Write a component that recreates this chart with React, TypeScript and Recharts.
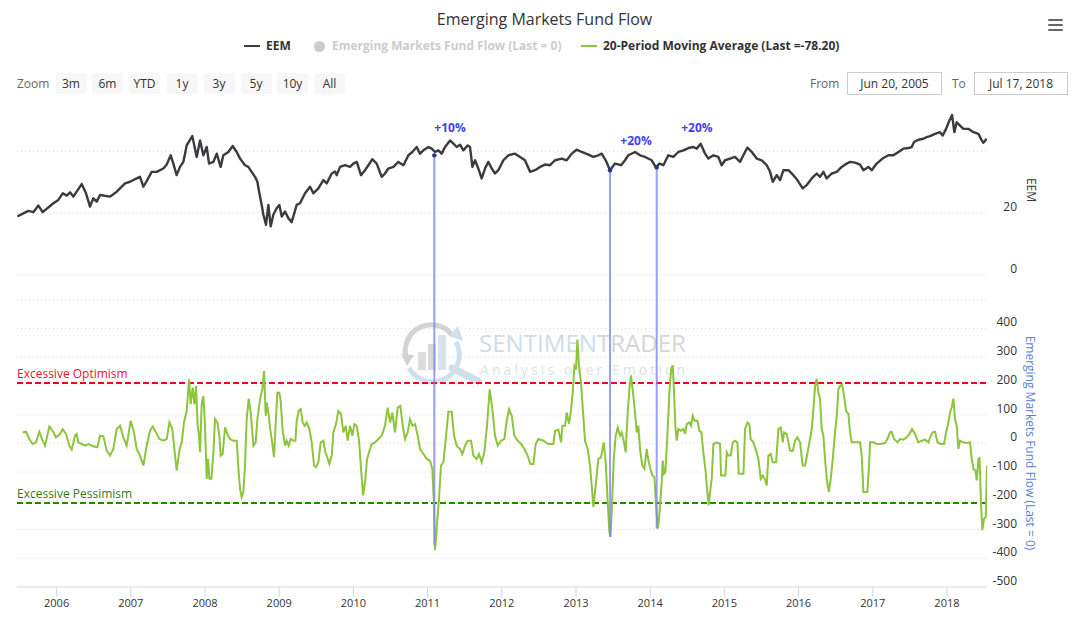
import React from 'react';
import { ComposedChart, Line, XAxis, YAxis, ReferenceLine, ReferenceDot } from 'recharts';

const FONT = '"Open Sans", "DejaVu Sans", sans-serif';

// ---------- data (decimal years) ----------
const eemDates = [
  2005.471, 2005.619, 2005.686, 2005.754, 2005.812, 2005.956, 2006.023, 2006.082, 2006.136, 2006.181,
  2006.225, 2006.338, 2006.396, 2006.45, 2006.495, 2006.54, 2006.585, 2006.72, 2006.81, 2006.922,
  2006.989, 2007.079, 2007.124, 2007.169, 2007.214, 2007.281, 2007.349, 2007.439, 2007.484, 2007.538,
  2007.573, 2007.618, 2007.663, 2007.708, 2007.753, 2007.829, 2007.865, 2007.888, 2007.933, 2007.978,
  2008.023, 2008.054, 2008.113, 2008.158, 2008.211, 2008.247, 2008.315, 2008.373, 2008.427, 2008.472,
  2008.539, 2008.584, 2008.629, 2008.674, 2008.706, 2008.733, 2008.764, 2008.787, 2008.822, 2008.854,
  2008.885, 2008.921, 2008.966, 2009.002, 2009.034, 2009.079, 2009.123, 2009.168, 2009.236, 2009.281,
  2009.348, 2009.416, 2009.46, 2009.528, 2009.595, 2009.64, 2009.708, 2009.753, 2009.775, 2009.82,
  2009.887, 2009.955, 2010.0, 2010.045, 2010.103, 2010.157, 2010.202, 2010.256, 2010.314, 2010.382,
  2010.426, 2010.471, 2010.539, 2010.606, 2010.674, 2010.741, 2010.795, 2010.853, 2010.898, 2010.943,
  2011.011, 2011.056, 2011.1, 2011.145, 2011.19, 2011.235, 2011.303, 2011.348, 2011.392, 2011.437,
  2011.482, 2011.541, 2011.572, 2011.604, 2011.64, 2011.684, 2011.729, 2011.774, 2011.819, 2011.864,
  2011.909, 2011.954, 2012.021, 2012.089, 2012.179, 2012.246, 2012.313, 2012.381, 2012.448, 2012.516,
  2012.583, 2012.65, 2012.718, 2012.808, 2012.875, 2012.943, 2013.01, 2013.077, 2013.167, 2013.235,
  2013.302, 2013.347, 2013.401, 2013.459, 2013.527, 2013.608, 2013.661, 2013.706, 2013.796, 2013.864,
  2013.931, 2014.021, 2014.079, 2014.124, 2014.178, 2014.245, 2014.313, 2014.38, 2014.448, 2014.515,
  2014.583, 2014.627, 2014.681, 2014.74, 2014.785, 2014.852, 2014.919, 2014.964, 2015.009, 2015.077,
  2015.144, 2015.211, 2015.256, 2015.31, 2015.369, 2015.436, 2015.503, 2015.571, 2015.616, 2015.652,
  2015.706, 2015.751, 2015.796, 2015.863, 2015.93, 2015.984, 2016.056, 2016.11, 2016.178, 2016.245,
  2016.29, 2016.335, 2016.379, 2016.447, 2016.514, 2016.582, 2016.649, 2016.694, 2016.761, 2016.829,
  2016.874, 2016.941, 2016.986, 2017.053, 2017.143, 2017.211, 2017.278, 2017.346, 2017.413, 2017.48,
  2017.525, 2017.557, 2017.615, 2017.682, 2017.727, 2017.772, 2017.84, 2017.907, 2017.943, 2017.988,
  2018.033, 2018.069, 2018.1, 2018.132, 2018.177, 2018.222, 2018.289, 2018.357, 2018.424, 2018.469,
  2018.491, 2018.536,
];
const eemValues = [
  18.93, 20.75, 20.32, 22.46, 20.32, 23.21, 24.28, 26.42, 25.67, 26.74,
  25.35, 29.41, 26.42, 22.14, 24.81, 23.74, 25.88, 25.35, 26.95, 29.63,
  30.16, 31.23, 31.76, 28.56, 30.37, 33.37, 33.37, 34.44, 35.71, 38.72,
  36.04, 32.3, 34.97, 36.58, 41.92, 44.92, 40.86, 38.18, 43.53, 38.72,
  41.39, 36.04, 36.58, 39.25, 34.97, 38.72, 39.79, 41.71, 39.79, 37.65,
  35.51, 34.97, 33.37, 31.76, 30.16, 26.42, 22.67, 19.47, 16.26, 22.67,
  15.72, 19.47, 21.6, 22.67, 18.93, 20.53, 18.4, 17.11, 22.67, 23.21,
  26.42, 28.56, 26.42, 28.02, 30.7, 29.63, 32.83, 33.5, 32.3, 34.97,
  35.51, 34.97, 36.04, 36.58, 32.3, 33.9, 35.51, 37.43, 36.04, 31.76,
  32.83, 34.44, 34.97, 36.58, 35.51, 38.72, 39.79, 41.39, 39.25, 40.32,
  41.39, 40.86, 39.79, 40.32, 39.25, 41.39, 43.53, 42.46, 41.39, 42.14,
  40.32, 41.92, 41.39, 34.97, 37.11, 34.44, 31.23, 34.44, 36.58, 34.44,
  32.83, 33.9, 37.11, 38.72, 39.25, 38.18, 37.11, 33.37, 33.9, 34.97,
  35.72, 35.51, 37.11, 37.65, 37.11, 39.25, 40.53, 39.79, 38.93, 38.18,
  38.72, 39.25, 37.11, 33.9, 36.04, 35.51, 37.11, 38.72, 39.79, 38.72,
  38.18, 37.11, 34.76, 36.04, 35.51, 38.72, 38.18, 39.79, 40.32, 41.06,
  41.39, 40.86, 42.46, 39.25, 37.65, 38.72, 38.18, 35.51, 37.11, 37.65,
  38.18, 36.58, 38.72, 41.18, 39.79, 37.65, 37.11, 35.51, 33.37, 30.16,
  32.3, 30.7, 33.9, 33.9, 32.3, 30.7, 28.02, 29.09, 31.23, 32.83,
  31.76, 33.37, 31.23, 32.83, 33.37, 34.97, 36.04, 36.58, 36.36, 35.72,
  33.9, 34.97, 33.9, 36.04, 37.86, 38.72, 38.72, 39.79, 40.86, 41.06,
  41.39, 43.0, 43.74, 44.06, 44.6, 44.92, 45.67, 46.2, 45.13, 47.27,
  49.95, 51.76, 46.2, 49.41, 48.34, 47.27, 47.27, 46.2, 45.67, 43.53,
  42.78, 44.06,
];

const flowDates = [
  2005.543, 2005.588, 2005.632, 2005.677, 2005.722, 2005.767, 2005.812, 2005.844, 2005.902, 2005.947,
  2005.992, 2006.046, 2006.082, 2006.127, 2006.172, 2006.203, 2006.248, 2006.27, 2006.293, 2006.338,
  2006.383, 2006.428, 2006.495, 2006.549, 2006.585, 2006.63, 2006.675, 2006.72, 2006.765, 2006.81,
  2006.855, 2006.9, 2006.944, 2006.998, 2007.043, 2007.079, 2007.124, 2007.169, 2007.214, 2007.259,
  2007.295, 2007.34, 2007.385, 2007.439, 2007.484, 2007.52, 2007.56, 2007.587, 2007.618, 2007.654,
  2007.686, 2007.717, 2007.753, 2007.785, 2007.807, 2007.834, 2007.857, 2007.879, 2007.901, 2007.92,
  2007.933, 2007.955, 2007.978, 2008.0, 2008.023, 2008.041, 2008.059, 2008.086, 2008.113, 2008.135,
  2008.167, 2008.194, 2008.211, 2008.238, 2008.27, 2008.301, 2008.337, 2008.382, 2008.427, 2008.454,
  2008.472, 2008.494, 2008.517, 2008.539, 2008.562, 2008.589, 2008.616, 2008.652, 2008.683, 2008.706,
  2008.742, 2008.773, 2008.796, 2008.818, 2008.832, 2008.854, 2008.876, 2008.899, 2008.93, 2008.953,
  2008.975, 2009.002, 2009.02, 2009.047, 2009.079, 2009.101, 2009.128, 2009.155, 2009.191, 2009.218,
  2009.236, 2009.263, 2009.29, 2009.317, 2009.344, 2009.371, 2009.407, 2009.438, 2009.47, 2009.497,
  2009.528, 2009.559, 2009.595, 2009.622, 2009.649, 2009.676, 2009.708, 2009.73, 2009.766, 2009.797,
  2009.833, 2009.865, 2009.896, 2009.923, 2009.955, 2009.986, 2010.013, 2010.045, 2010.076, 2010.103,
  2010.13, 2010.157, 2010.184, 2010.211, 2010.247, 2010.292, 2010.337, 2010.382, 2010.426, 2010.462,
  2010.494, 2010.525, 2010.561, 2010.597, 2010.633, 2010.665, 2010.696, 2010.732, 2010.763, 2010.795,
  2010.831, 2010.867, 2010.898, 2010.943, 2010.988, 2011.033, 2011.064, 2011.087, 2011.1, 2011.114,
  2011.132, 2011.154, 2011.181, 2011.213, 2011.249, 2011.28, 2011.325, 2011.357, 2011.392, 2011.437,
  2011.469, 2011.505, 2011.541, 2011.586, 2011.617, 2011.662, 2011.693, 2011.729, 2011.765, 2011.801,
  2011.837, 2011.873, 2011.909, 2011.945, 2011.99, 2012.035, 2012.066, 2012.098, 2012.134, 2012.17,
  2012.215, 2012.26, 2012.305, 2012.349, 2012.385, 2012.426, 2012.457, 2012.493, 2012.561, 2012.628,
  2012.695, 2012.718, 2012.763, 2012.799, 2012.817, 2012.853, 2012.875, 2012.907, 2012.934, 2012.956,
  2012.979, 2013.001, 2013.019, 2013.041, 2013.068, 2013.095, 2013.122, 2013.158, 2013.19, 2013.212,
  2013.235, 2013.266, 2013.302, 2013.338, 2013.374, 2013.401, 2013.428, 2013.45, 2013.464, 2013.482,
  2013.509, 2013.536, 2013.563, 2013.594, 2013.616, 2013.643, 2013.67, 2013.697, 2013.724, 2013.742,
  2013.769, 2013.796, 2013.819, 2013.841, 2013.868, 2013.895, 2013.922, 2013.953, 2013.976, 2014.003,
  2014.03, 2014.057, 2014.079, 2014.102, 2014.12, 2014.156, 2014.169, 2014.187, 2014.205, 2014.232,
  2014.259, 2014.282, 2014.304, 2014.322, 2014.34, 2014.358, 2014.38, 2014.412, 2014.448, 2014.47,
  2014.493, 2014.529, 2014.551, 2014.574, 2014.601, 2014.637, 2014.663, 2014.69, 2014.717, 2014.744,
  2014.771, 2014.789, 2014.807, 2014.83, 2014.852, 2014.897, 2014.942, 2014.956, 2014.987, 2015.014,
  2015.032, 2015.054, 2015.086, 2015.113, 2015.144, 2015.176, 2015.194, 2015.234, 2015.257, 2015.279,
  2015.311, 2015.337, 2015.355, 2015.391, 2015.427, 2015.459, 2015.49, 2015.517, 2015.544, 2015.571,
  2015.594, 2015.625, 2015.652, 2015.697, 2015.728, 2015.76, 2015.787, 2015.805, 2015.841, 2015.886,
  2015.922, 2015.953, 2015.984, 2016.02, 2016.056, 2016.088, 2016.11, 2016.146, 2016.178, 2016.2,
  2016.223, 2016.245, 2016.268, 2016.29, 2016.312, 2016.335, 2016.357, 2016.38, 2016.407, 2016.434,
  2016.461, 2016.488, 2016.515, 2016.537, 2016.56, 2016.587, 2016.613, 2016.64, 2016.672, 2016.694,
  2016.717, 2016.784, 2016.829, 2016.852, 2016.874, 2016.928, 2016.95, 2016.964, 2017.009, 2017.054,
  2017.099, 2017.166, 2017.198, 2017.233, 2017.256, 2017.287, 2017.332, 2017.368, 2017.413, 2017.458,
  2017.494, 2017.53, 2017.57, 2017.615, 2017.66, 2017.705, 2017.75, 2017.773, 2017.809, 2017.84,
  2017.872, 2017.916, 2017.961, 2017.988, 2018.02, 2018.042, 2018.064, 2018.087, 2018.109, 2018.132,
  2018.154, 2018.177, 2018.222, 2018.267, 2018.312, 2018.334, 2018.357, 2018.384, 2018.402, 2018.424,
  2018.438, 2018.447, 2018.46, 2018.478, 2018.5, 2018.523, 2018.54,
];
const flowValues = [
  38.1, 40.4, 15.0, -2.3, 3.5, 40.4, 9.2, -8.1, 58.8, 43.8,
  20.8, 32.3, 49.6, 32.3, -8.1, -21.9, 26.5, 32.3, 3.5, -2.3,
  -8.1, -2.3, -10.4, -13.8, 26.5, 24.2, -25.4, -42.7, -19.6, 49.6,
  61.2, 20.8, -8.1, 78.5, 38.1, -19.6, -42.7, -77.3, -8.1, 43.8,
  58.8, 38.1, 15.0, 9.2, 15.0, 72.7, 49.6, -19.6, -94.6, -25.4,
  3.5, 72.7, 113.1, 222.7, 136.1, 193.8, 136.1, 199.6, 61.2, 26.5,
  -31.2, 136.1, 165.0, 61.2, -123.5, -54.2, -123.5, -123.5, -31.2, 84.2,
  72.7, 26.5, -42.7, -36.9, 55.4, 32.3, 15.0, 9.2, 9.2, -100.4,
  -158.1, -186.9, -169.6, -77.3, 84.2, 155.8, 107.3, -8.1, 3.5, 84.2,
  153.5, 188.1, 251.5, 95.8, 141.9, 107.3, 55.4, 15.0, -48.5, 72.7,
  176.5, 176.5, 147.7, 43.8, -8.1, 9.2, -8.1, 15.0, 9.2, 9.2,
  78.5, 113.1, 118.8, 72.7, 61.2, 72.7, 49.6, 3.5, -77.3, -83.1,
  -65.8, 3.5, 9.2, -31.2, -48.5, -71.5, -42.7, 38.1, 66.9, 113.1,
  101.5, 38.1, 61.2, 9.2, 61.2, 26.5, 66.9, 61.2, 9.2, -88.8,
  -181.1, -135.0, -54.2, -31.2, -2.3, 3.5, 15.0, 26.5, 61.2, 124.6,
  72.7, 107.3, 38.1, 124.6, 130.4, 61.2, 15.0, 38.1, 84.2, 61.2,
  66.9, 26.5, -19.6, -36.9, -54.2, -60.0, -88.8, -215.8, -371.5, -331.1,
  -261.9, -192.7, -77.3, -65.8, 26.5, 109.6, 109.6, 26.5, -8.1, -19.6,
  -36.9, -8.1, 9.2, 9.2, -42.7, -54.2, -36.9, -65.8, -31.2, 61.2,
  188.1, 118.8, 26.5, -8.1, 9.2, 15.0, 78.5, 118.8, 95.8, 26.5,
  9.2, -2.3, -19.6, -42.7, -71.5, -71.5, -2.3, 15.0, 9.2, -2.3,
  -2.3, 43.8, 47.3, 3.5, 61.2, 61.2, 107.3, 66.9, 118.8, 176.5,
  268.8, 257.3, 361.1, 268.8, 211.1, 107.3, 9.2, -19.6, -77.3, -146.5,
  -221.5, -146.5, -54.2, -48.5, 3.5, -65.8, -204.2, -308.1, -325.4, -238.8,
  -54.2, 26.5, 55.4, 26.5, 38.1, 9.2, -31.2, 107.3, 199.6, 236.5,
  176.5, 107.3, 38.1, 61.2, -31.2, -77.3, -88.8, -19.6, -60.0, -88.8,
  -111.9, -117.7, -215.8, -296.5, -261.9, -135.0, -60.0, -106.1, -100.4, 26.5,
  176.5, 257.3, 271.2, 176.5, 61.2, 9.2, 49.6, 43.8, 49.6, 32.3,
  66.9, 72.7, 61.2, 95.8, 78.5, 78.5, 43.8, 38.1, -31.2, -88.8,
  -169.6, -215.8, -169.6, -123.5, -2.3, 3.5, -2.3, -111.9, -111.9, -111.9,
  -31.2, -42.7, -42.7, 3.5, 9.2, 3.5, -106.1, -106.1, -106.1, 49.6,
  72.7, 66.9, 15.0, 3.5, -25.4, -54.2, -123.5, -111.9, -123.5, -146.5,
  -42.7, -36.9, -65.8, -65.8, 49.6, 55.4, 3.5, 38.1, 32.3, -25.4,
  -25.4, 9.2, 20.8, 3.5, -77.3, -77.3, -48.5, 3.5, 49.6, 118.8,
  199.6, 224.9, 176.5, 153.5, 49.6, 26.5, -54.2, -123.5, -169.6, -123.5,
  -54.2, 26.5, 95.8, 188.1, 199.6, 205.4, 165.0, 113.1, 101.5, 38.1,
  3.5, 3.5, 3.5, -42.7, -169.6, -169.6, -77.3, 3.5, 3.5, -2.3,
  -2.3, 1.2, 15.0, 38.1, 40.4, 15.0, 3.5, 15.0, 12.7, 20.8,
  32.3, 49.6, 32.3, 3.5, 9.2, 12.7, 3.5, 20.8, 38.1, 40.4,
  3.5, -2.3, -2.3, 38.1, 72.7, 107.3, 124.6, 155.8, 84.2, 61.2,
  -19.6, 9.2, 3.5, 1.2, 3.5, -54.2, -88.8, -94.6, -129.2, -54.2,
  -51.9, -111.9, -215.8, -302.3, -261.9, -256.2, -78.2,
];

const yearTicks = [2006, 2007, 2008, 2009, 2010, 2011, 2012, 2013, 2014, 2015, 2016, 2017, 2018];
const eemGrid = [0, 20, 40];
const eemLabelled = [0, 20];
const flowGrid = [-500, -400, -300, -200, -100, 0, 100, 200, 300, 400, 500];
const flowLabelled = [-500, -400, -300, -200, -100, 0, 100, 200, 300, 400];
const OPTIMISM = 210;
const PESSIMISM = -208;

const signalDates = [2011.091, 2013.459, 2014.088];
const signalPrices = [38.7, 33.9, 34.8];
const signalTroughs = [-355, -325, -296];

const annotationDates = [2011.303, 2013.81, 2014.63];
const annotationLevels = [47.5, 43.3, 47.5];
const annotationLabels = ['+10%', '+20%', '+20%'];

// ---------- axis domains (two stacked panes sharing one plot area) ----------
const X_START = 2005.466; // Jun 20, 2005
const X_END = 2018.54; // Jul 17, 2018
const EEM_MIN = -100.9;
const EEM_MAX = 56.6;
const FLOW_MIN = -500;
const FLOW_MAX = 1195;

const flowFromEem = (v: number) =>
  FLOW_MIN + ((v - EEM_MIN) / (EEM_MAX - EEM_MIN)) * (FLOW_MAX - FLOW_MIN);

const eemData = eemDates.map((t, i) => ({ t, v: eemValues[i] }));
const flowData = flowDates.map((t, i) => ({ t, v: flowValues[i] }));

// tick label drawn at the right of a gridline
const GridTickLabel = (props: any) => {
  const { viewBox, text } = props;
  if (text === null || text === undefined) return null;
  return (
    <text
      x={viewBox.x + viewBox.width + 30}
      y={viewBox.y - 2}
      textAnchor="end"
      fontSize={12}
      fill="#333"
      fontFamily={FONT}
    >
      {text}
    </text>
  );
};

const ThresholdLabel = (props: any) => {
  const { viewBox, text, color } = props;
  return (
    <text x={viewBox.x} y={viewBox.y - 5} fill={color} fontSize={12} fontFamily={FONT}>
      {text}
    </text>
  );
};

const AnnoLabel = (props: any) => {
  const { viewBox, text } = props;
  const cx = viewBox.x + (viewBox.width || 0) / 2;
  const cy = viewBox.y + (viewBox.height || 0) / 2;
  return (
    <text x={cx} y={cy + 4} textAnchor="middle" fill="#3f3ff2" fontSize={12} fontWeight="bold" fontFamily={FONT}>
      {text}
    </text>
  );
};

const buttonLefts = [55.5, 92, 129, 166.5, 203.5, 240.5, 277, 314];
const buttonLabels = ['3m', '6m', 'YTD', '1y', '3y', '5y', '10y', 'All'];

const Watermark = () => (
  <svg width={1089} height={628} style={{ position: 'absolute', left: 0, top: 0 }}>
    <g opacity={0.9}>
      <path d="M 452 335 A 26 26 0 0 0 407 360" fill="none" stroke="#cfcfcf" strokeWidth={5} />
      <path d="M 401 354 L 407 366 L 414 355 Z" fill="#cfcfcf" />
      <path d="M 409 368 A 26 26 0 0 0 456 342" fill="none" stroke="#cbdcea" strokeWidth={5} />
      <path d="M 449 336 L 458 326 L 463 341 Z" fill="#cbdcea" />
      <rect x={418} y={352} width={8} height={18} fill="#dadada" />
      <rect x={428} y={344} width={8} height={26} fill="#d4d4d4" />
      <rect x={438} y={335} width={8} height={35} fill="#d3e0ec" />
      <line x1={452} y1={368} x2={478} y2={381} stroke="#cddbe7" strokeWidth={7} strokeLinecap="round" />
      <text x={479} y={352} fontSize={24} fontFamily={FONT} textLength={207} lengthAdjust="spacingAndGlyphs">
        <tspan fill="#c9d9e8">SENTIMEN</tspan>
        <tspan fill="#d2d2d2">TRADER</tspan>
      </text>
      <text x={480} y={375} fontSize={14} fontFamily={FONT} fill="#d8dfe6" textLength={205} lengthAdjust="spacing">
        Analysis over Emotion
      </text>
    </g>
  </svg>
);

export default function App() {
  return (
    <div style={{ position: 'absolute', left: 0, top: 0, width: 1089, height: 628, fontFamily: FONT, background: '#fff' }}>
      <Watermark />
      <div style={{ position: 'absolute', left: 0, top: 0 }}>
        <ComposedChart
          width={1089}
          height={628}
          margin={{ top: 100, right: 102, bottom: 11, left: 17 }}
        >
          <XAxis
            dataKey="t"
            type="number"
            domain={[X_START, X_END]}
            ticks={yearTicks}
            interval={0}
            allowDataOverflow
            tickFormatter={(v: number) => String(v)}
            stroke="#ccd6eb"
            tickSize={10}
            tickMargin={2}
            height={30}
            tick={{ fill: '#333', fontSize: 11, fontFamily: FONT }}
          />
          <YAxis yAxisId="eem" hide type="number" domain={[EEM_MIN, EEM_MAX]} allowDataOverflow />
          <YAxis yAxisId="flow" hide type="number" domain={[FLOW_MIN, FLOW_MAX]} allowDataOverflow />
          {eemGrid.map((g) => (
            <ReferenceLine
              key={'eg' + g}
              yAxisId="eem"
              y={g}
              stroke="#d6d6d6"
              strokeDasharray="1 3"
              ifOverflow="visible"
              label={<GridTickLabel text={eemLabelled.includes(g) ? String(g) : null} />}
            />
          ))}
          {flowGrid.map((g) => (
            <ReferenceLine
              key={'fg' + g}
              yAxisId="flow"
              y={g}
              stroke={g === FLOW_MIN ? 'none' : '#d6d6d6'}
              strokeDasharray="1 3"
              ifOverflow="visible"
              label={<GridTickLabel text={flowLabelled.includes(g) ? String(g) : null} />}
            />
          ))}
          <ReferenceLine
            yAxisId="flow"
            y={OPTIMISM}
            stroke="#f0001c"
            strokeWidth={2}
            strokeDasharray="6 3"
            label={<ThresholdLabel text="Excessive Optimism" color="#ee1030" />}
          />
          <ReferenceLine
            yAxisId="flow"
            y={PESSIMISM}
            stroke="#1d8a00"
            strokeWidth={2}
            strokeDasharray="6 3"
            label={<ThresholdLabel text="Excessive Pessimism" color="#2f7a12" />}
          />
          <Line
            yAxisId="eem"
            data={eemData}
            dataKey="v"
            type="linear"
            stroke="#3b3b3f"
            strokeWidth={2.4}
            strokeLinejoin="round"
            dot={false}
            activeDot={false}
            isAnimationActive={false}
          />
          <Line
            yAxisId="flow"
            data={flowData}
            dataKey="v"
            type="linear"
            stroke="#8cc43c"
            strokeWidth={2}
            dot={false}
            activeDot={false}
            isAnimationActive={false}
          />
          {signalDates.map((t, i) => (
            <ReferenceLine
              key={'sig' + i}
              yAxisId="flow"
              ifOverflow="visible"
              segment={[
                { x: t, y: signalTroughs[i] },
                { x: t, y: flowFromEem(signalPrices[i]) },
              ]}
              stroke="#7f86f2"
              strokeOpacity={0.8}
              strokeWidth={2}
            />
          ))}
          {signalDates.map((t, i) => (
            <ReferenceDot
              key={'sd' + i}
              yAxisId="eem"
              x={t}
              y={signalPrices[i]}
              r={2.2}
              fill="#2c3380"
              stroke="none"
              ifOverflow="visible"
            />
          ))}
          {annotationDates.map((t, i) => (
            <ReferenceDot
              key={'an' + i}
              yAxisId="eem"
              x={t}
              y={annotationLevels[i]}
              r={1}
              fill="none"
              stroke="none"
              ifOverflow="visible"
              label={<AnnoLabel text={annotationLabels[i]} />}
            />
          ))}
        </ComposedChart>
      </div>

      {/* axis titles */}
      <svg width={1089} height={628} style={{ position: 'absolute', left: 0, top: 0, pointerEvents: 'none' }}>
        <text x={1031} y={190} transform="rotate(90 1031 190)" textAnchor="middle" dominantBaseline="central" fontSize={12} fill="#333" fontFamily={FONT}>
          EEM
        </text>
        <text x={1030} y={443} transform="rotate(90 1030 443)" textAnchor="middle" dominantBaseline="central" fontSize={12} fill="#5b7fd6" fontFamily={FONT}>
          Emerging Markets Fund Flow (Last = 0)
        </text>
      </svg>

      {/* title */}
      <div style={{ position: 'absolute', left: 0, top: 8, width: 1089, textAlign: 'center', fontSize: 16, lineHeight: '22px', color: '#333' }}>
        Emerging Markets Fund Flow
      </div>

      {/* legend */}
      <div style={{ position: 'absolute', left: 244, top: 45, width: 16, height: 2, background: '#3b3b3f' }} />
      <div style={{ position: 'absolute', left: 266, top: 38, fontSize: 12, lineHeight: '16px', fontWeight: 'bold', color: '#333' }}>EEM</div>
      <div style={{ position: 'absolute', left: 314, top: 40.5, width: 11, height: 11, borderRadius: '50%', background: '#cccccc' }} />
      <div style={{ position: 'absolute', left: 332, top: 38, fontSize: 12, lineHeight: '16px', fontWeight: 'bold', color: '#cccccc' }}>
        Emerging Markets Fund Flow (Last = 0)
      </div>
      <div style={{ position: 'absolute', left: 581, top: 45, width: 16, height: 2, background: '#8cc43c' }} />
      <div style={{ position: 'absolute', left: 603, top: 38, fontSize: 12, lineHeight: '16px', fontWeight: 'bold', color: '#333' }}>
        20-Period Moving Average (Last =-78.20)
      </div>

      {/* hamburger */}
      {[18.5, 23.5, 28.5].map((t) => (
        <div key={'hb' + t} style={{ position: 'absolute', left: 1048, top: t, width: 15, height: 2.5, background: '#666', borderRadius: 1 }} />
      ))}

      {/* range selector */}
      <div style={{ position: 'absolute', left: 17, top: 75, fontSize: 12, lineHeight: '17px', color: '#666' }}>Zoom</div>
      {buttonLabels.map((b, i) => (
        <div
          key={b}
          style={{
            position: 'absolute',
            left: buttonLefts[i],
            top: 73,
            width: 31,
            height: 21,
            background: '#f7f7f7',
            borderRadius: 2,
            fontSize: 12,
            lineHeight: '21px',
            textAlign: 'center',
            color: '#333',
          }}
        >
          {b}
        </div>
      ))}
      <div style={{ position: 'absolute', left: 810, top: 75, fontSize: 12, lineHeight: '17px', color: '#666' }}>From</div>
      <div style={{ position: 'absolute', left: 847, top: 72, width: 93, height: 21, border: '1px solid #ccc', fontSize: 12, lineHeight: '21px', textAlign: 'center', color: '#333' }}>
        Jun 20, 2005
      </div>
      <div style={{ position: 'absolute', left: 952, top: 75, fontSize: 12, lineHeight: '17px', color: '#666' }}>To</div>
      <div style={{ position: 'absolute', left: 974, top: 72, width: 92, height: 21, border: '1px solid #ccc', fontSize: 12, lineHeight: '21px', textAlign: 'center', color: '#333' }}>
        Jul 17, 2018
      </div>
    </div>
  );
}
